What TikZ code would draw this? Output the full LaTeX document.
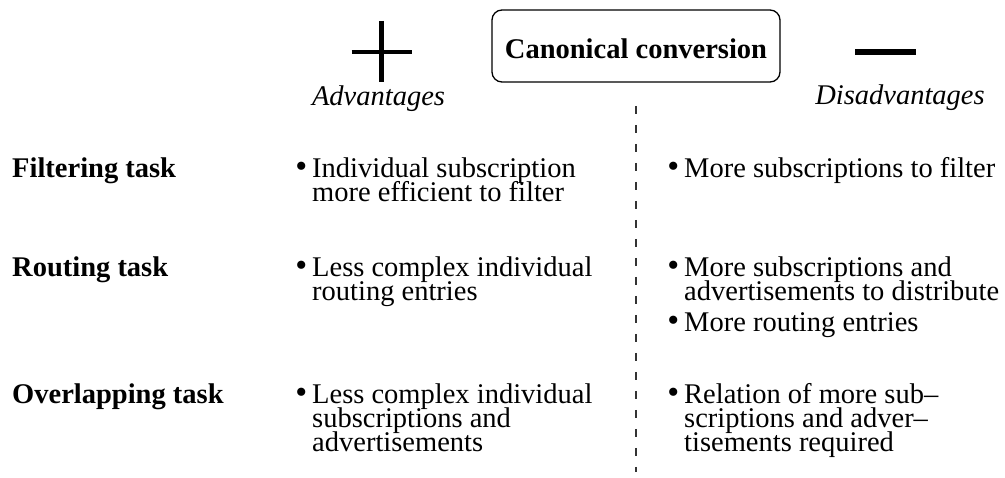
\documentclass[tikz,border=0pt]{standalone}
\usepackage{fontspec}
\setmainfont{Liberation Serif}
\usetikzlibrary{positioning}
\newcommand{\fsz}{\fontsize{28.5}{24}\selectfont}
\newcommand{\stk}[1]{\vtop{\lineskiplimit=-100pt\let\\\cr\halign{##\hfil\cr#1\crcr}}}
\newcommand{\bul}{\llap{{\fontsize{34}{34}\selectfont\textbullet}\hspace{5pt}}}
\begin{document}
\begin{tikzpicture}[
      x=1pt, y=-1pt,
      task/.style={anchor=base west, inner sep=0pt, font=\fsz\bfseries},
      pro/.style={anchor=base west, inner sep=0pt, font=\fsz},
      head/.style={anchor=base, inner sep=0pt, font=\fsz\itshape},
      conv/.style={draw, rounded corners=10pt, line width=1.3pt, minimum width=288pt,
                   minimum height=72pt, inner sep=0pt, text height=26pt, text depth=0pt,
                   font=\fsz\bfseries},
      sign/.style={line width=4.6pt},
      divider/.style={dash pattern=on 8pt off 11pt, line width=1.2pt, black!80}
   ]
      \useasboundingbox (0,0) rectangle (1005,478);

      % header
      \node[conv] (conv) at (636,46) {Canonical conversion};
      \coordinate (plus) at (381.5,52);
      \coordinate (minus) at (885.5,52);
      \draw[sign] (plus) +(-30,0) -- +(30,0) (plus) +(0,-31) -- +(0,30);
      \draw[sign, line width=5.7pt] (minus) +(-30.5,0) -- +(30.5,0);
      \node[head] (adv) at (378.5,106) {Advantages};
      \node[head] (dis) at (900,105) {Disadvantages};

      \coordinate (dtop) at (636,106);
      \coordinate (dbot) at (636,472);
      \draw[divider] (dtop) -- (dbot);

      % rows
      \node[task] (filt) at (12,178) {Filtering task};
      \node[task] (rout) at (12,277) {Routing task};
      \node[task] (over) at (12,404) {Overlapping task};

      \node[pro] (filtpro) at (312,178) {\bul\stk{Individual subscription\\more efficient to filter}};
      \node[pro] (routpro) at (312,277) {\bul\stk{Less complex individual\\routing entries}};
      \node[pro] (overpro) at (312,404) {\bul\stk{Less complex individual\\subscriptions and\\advertisements}};

      \node[pro] (filtcon) at (684,178) {\bul More subscriptions to filter};
      \node[pro] (routcon) at (684,277) {\bul\stk{More subscriptions and\\advertisements to distribute}};
      \node[pro] (routcon2) at (684,332) {\bul More routing entries};
      \node[pro] (overcon) at (684,404) {\bul\stk{Relation of more sub--\\scriptions and adver--\\tisements required}};
   \end{tikzpicture}
\end{document}
